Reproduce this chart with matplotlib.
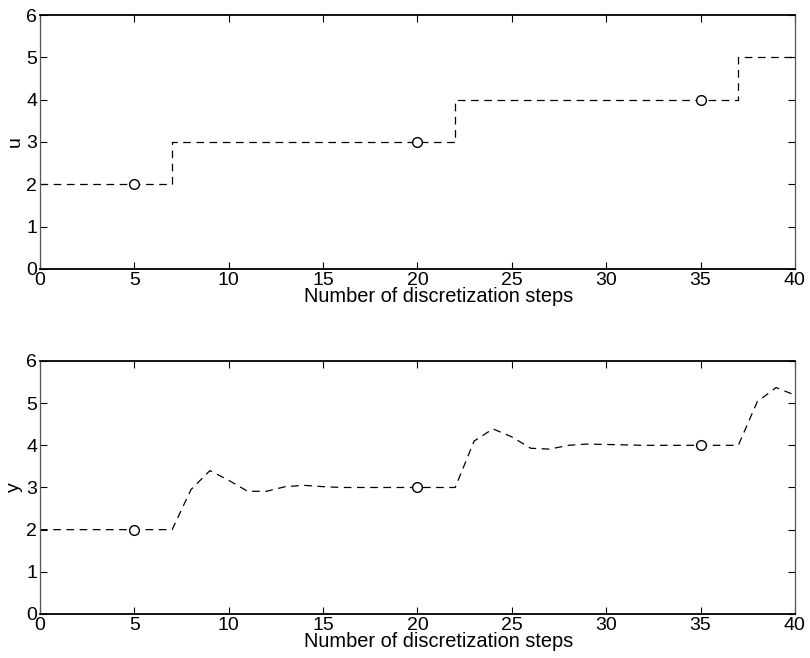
import matplotlib
matplotlib.use('Agg')

import matplotlib.pyplot as plt
import numpy as np

# ---------------------------
# DADOS
# ---------------------------
steps = np.arange(0, 41)

# entrada por degraus (troca de referência nos passos 7, 22 e 37)
u_levels = [2, 3, 4, 5]
u_switch = [0, 7, 22, 37]

# saída y em cada passo de discretização
y_vals = [2.0, 2.0, 2.0, 2.0, 2.0, 2.0, 2.0, 2.0,
          2.95, 3.40, 3.17, 2.91, 2.91, 3.02, 3.05, 3.02,
          3.00, 3.00, 3.00, 3.00, 3.00, 3.00, 3.00,
          4.10, 4.39, 4.20, 3.93, 3.91, 4.00, 4.03, 4.02,
          4.01, 4.00, 4.00, 4.00, 4.00, 4.00, 4.00,
          5.03, 5.37, 5.19]

# pontos marcados (referências)
mark_x = [5, 20, 35]
mark_y = [2, 3, 4]

u_vals = np.zeros(len(steps))
for s, lv in zip(u_switch, u_levels):
    u_vals[steps >= s] = lv

# ---------------------------
# ESTILO
# ---------------------------
plt.rcParams['font.family'] = ['Liberation Sans', 'DejaVu Sans']
plt.rcParams['font.size'] = 14
plt.rcParams['lines.scale_dashes'] = False

fig = plt.figure(figsize=(8.1, 6.58), dpi=100)
ax_u = fig.add_axes([0.0494, 0.5912, 0.932, 0.386])
ax_y = fig.add_axes([0.0494, 0.0669, 0.932, 0.3845])

dash = (5.5, 4.0)


def style(ax, ylab):
    ax.set_xlim(0, 40)
    ax.set_ylim(0, 6)
    ax.set_xticks(np.arange(0, 41, 5))
    ax.set_yticks(np.arange(0, 7, 1))
    ax.tick_params(direction='in', top=True, right=True, length=5,
                   width=0.8, labelsize=14, pad=2)
    ax.tick_params(axis='x', pad=2)
    for side in ('top', 'bottom'):
        ax.spines[side].set_linewidth(1.3)
        ax.spines[side].set_color('black')
    for side in ('left', 'right'):
        ax.spines[side].set_linewidth(0.9)
        ax.spines[side].set_color('#555555')
    ax.set_xlabel('Number of discretization steps', fontsize=14.4,
                  labelpad=-1, x=0.528)
    ax.set_ylabel(ylab, fontsize=14, labelpad=2)


# ---------------------------
# u
# ---------------------------
ax_u.plot(steps, u_vals, drawstyle='steps-post', color='black',
          lw=0.9, linestyle=(0, dash))
ax_u.plot(mark_x, mark_y, 'o', ms=7, mfc='white', mec='black', mew=1.0)
style(ax_u, 'u')

# ---------------------------
# y
# ---------------------------
ax_y.plot(steps, y_vals, color='black', lw=0.9, linestyle=(0, dash))
ax_y.plot(mark_x, mark_y, 'o', ms=7, mfc='white', mec='black', mew=1.0)
style(ax_y, 'y')

fig.savefig('out.png', dpi=100)
